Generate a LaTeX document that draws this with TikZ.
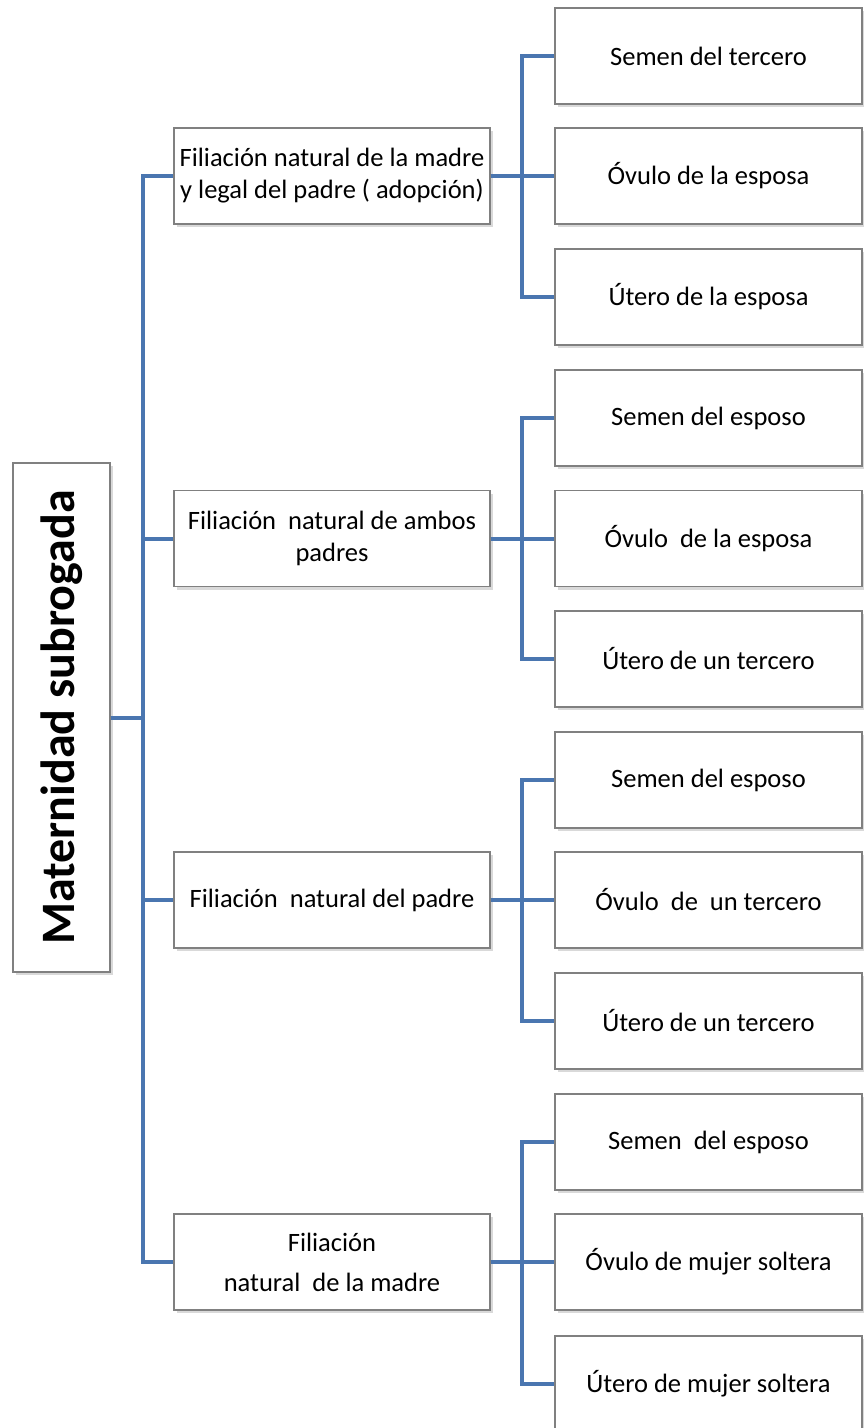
\documentclass[tikz,border=0pt]{standalone}
\usepackage{fontspec}
\setmainfont{Carlito}
\usetikzlibrary{shadows,calc}
\definecolor{linkblue}{RGB}{74,118,176}
\definecolor{boxline}{RGB}{128,128,128}
\begin{document}
\begin{tikzpicture}[x=1pt,y=-1pt,
  box/.style={draw=boxline, line width=1.3pt, fill=white,
    drop shadow={shadow xshift=2.5pt, shadow yshift=-3pt, opacity=0.3},
    inner sep=0pt, align=center, font=\fontsize{26.5}{32}\selectfont},
  midbox/.style={box, minimum width=316pt, minimum height=96pt},
  leafbox/.style={box, minimum width=307pt, minimum height=96pt},
  conn/.style={draw=linkblue, line width=4pt}]
\useasboundingbox (0,0) rectangle (864,1428);
% root
\node[box, minimum width=97pt, minimum height=509pt, font=\fontsize{48}{52}\selectfont\bfseries] (root) at (61.5,717.5) {\rotatebox{90}{Maternidad subrogada}};
% middle level
\node[midbox] (m1) at (332,176) {Filiación natural de la madre\\y legal del padre ( adopción)};
\node[midbox] (m2) at (332,538.5) {Filiación\ \ natural de ambos\\padres};
\node[midbox] (m3) at (332,900) {Filiación\ \ natural del padre};
\node[midbox, font=\fontsize{26.5}{40}\selectfont] (m4) at (332,1262) {Filiación\\natural\ \ de la madre};
% leaves
\node[leafbox] (l11) at (708.5,56) {Semen del tercero};
\node[leafbox] (l12) at (708.5,176) {Óvulo de la esposa};
\node[leafbox] (l13) at (708.5,297) {Útero de la esposa};
\node[leafbox] (l21) at (708.5,418) {Semen del esposo};
\node[leafbox] (l22) at (708.5,538.5) {Óvulo\ \ de la esposa};
\node[leafbox] (l23) at (708.5,659) {Útero de un tercero};
\node[leafbox] (l31) at (708.5,780) {Semen del esposo};
\node[leafbox] (l32) at (708.5,900) {Óvulo\ \ de\ \ un tercero};
\node[leafbox] (l33) at (708.5,1021) {Útero de un tercero};
\node[leafbox] (l41) at (708.5,1142) {Semen\ \ del esposo};
\node[leafbox] (l42) at (708.5,1262) {Óvulo de mujer soltera};
\node[leafbox] (l43) at (708.5,1384) {Útero de mujer soltera};
% connectors
\coordinate (T) at (143,0);
\foreach \m in {m1,m2,m3,m4}
  \draw[conn] (root.east) -- (root.east -| T) |- (\m.west);
\foreach \g in {1,2,3,4}{
  \coordinate (S\g) at ($(m\g.east)+(31,0)$);
}
\foreach \g in {1,2,3,4}
  \foreach \j in {1,2,3}
    \draw[conn] (m\g.east) -- (S\g) |- (l\g\j.west);
\end{tikzpicture}
\end{document}
